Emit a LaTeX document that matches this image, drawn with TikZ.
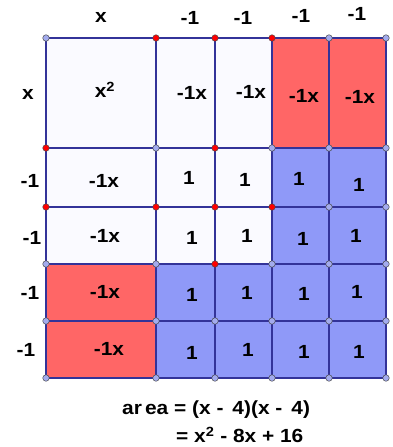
\documentclass[tikz,border=0pt]{standalone}
\usepackage{fontspec}
\setmainfont{Liberation Sans}[FakeStretch=1.1]
\definecolor{gridline}{HTML}{333399}
\definecolor{cellwhite}{HTML}{FAFAFF}
\definecolor{cellred}{HTML}{FF6666}
\definecolor{cellblue}{HTML}{8F99F8}
\definecolor{dotblue}{HTML}{A3ABEE}
\definecolor{dotred}{HTML}{FF0000}
\begin{document}
\begin{tikzpicture}[x=1pt,y=-1pt,
  lbl/.style={font=\bfseries\fontsize{19}{21}\selectfont, inner sep=0pt},
  cellbox/.style={draw=gridline, line width=1.5pt},
  vdot/.style={circle, draw=black!70, line width=0.5pt, inner sep=0pt, minimum size=6.5pt},
  bdot/.style={vdot, fill=dotblue},
  rdot/.style={vdot, fill=dotred}]
\useasboundingbox (0,0) rectangle (392,447);
% grid coordinates
\def\xs{{46,156,215,272,329,386}}
\def\ys{{38,148,207,264,321,378}}
\foreach \i in {0,...,5}{
  \foreach \j in {0,...,5}{
    \pgfmathsetmacro{\px}{\xs[\j]}
    \pgfmathsetmacro{\py}{\ys[\i]}
    \coordinate (p-\i-\j) at (\px,\py);
  }
}
% cells: row, col, colour
\foreach \r/\c/\col in {
  0/0/cellwhite,0/1/cellwhite,0/2/cellwhite,0/3/cellred,0/4/cellred,
  1/0/cellwhite,1/1/cellwhite,1/2/cellwhite,1/3/cellblue,1/4/cellblue,
  2/0/cellwhite,2/1/cellwhite,2/2/cellwhite,2/3/cellblue,2/4/cellblue,
  3/0/cellred,3/1/cellblue,3/2/cellblue,3/3/cellblue,3/4/cellblue,
  4/0/cellred,4/1/cellblue,4/2/cellblue,4/3/cellblue,4/4/cellblue}{
  \pgfmathtruncatemacro{\rr}{\r+1}
  \pgfmathtruncatemacro{\cc}{\c+1}
  \fill[\col] (p-\r-\c) rectangle (p-\rr-\cc);
}
\foreach \r/\c in {0/0,0/1,0/2,0/3,0/4,1/0,1/1,1/2,1/3,1/4,2/0,2/1,2/2,2/3,2/4,3/0,3/1,3/2,3/3,3/4,4/0,4/1,4/2,4/3,4/4}{
  \pgfmathtruncatemacro{\rr}{\r+1}
  \pgfmathtruncatemacro{\cc}{\c+1}
  \draw[cellbox] (p-\r-\c) rectangle (p-\rr-\cc);
}
% vertex dots
\foreach \i/\j/\s in {
  0/0/bdot,0/1/rdot,0/2/rdot,0/3/rdot,0/4/bdot,0/5/bdot,
  1/0/rdot,1/1/bdot,1/2/rdot,1/3/bdot,1/4/bdot,1/5/bdot,
  2/0/rdot,2/1/rdot,2/2/rdot,2/3/rdot,2/4/bdot,2/5/bdot,
  3/0/bdot,3/1/bdot,3/2/rdot,3/3/bdot,3/4/bdot,3/5/bdot,
  4/0/bdot,4/1/bdot,4/2/bdot,4/3/bdot,4/4/bdot,4/5/bdot,
  5/0/bdot,5/1/bdot,5/2/bdot,5/3/bdot,5/4/bdot,5/5/bdot}{
  \node[\s] (d-\i-\j) at (p-\i-\j) {};
}
% top labels
\node[lbl] (t0) at (101,17) {x};
\node[lbl] (t1) at (190,18) {-1};
\node[lbl] (t2) at (243,18) {-1};
\node[lbl] (t3) at (301,16) {-1};
\node[lbl] (t4) at (357,14) {-1};
% left labels
\node[lbl] (l0) at (28,94) {x};
\node[lbl] (l1) at (30,181) {-1};
\node[lbl] (l2) at (32,238) {-1};
\node[lbl] (l3) at (30,293) {-1};
\node[lbl] (l4) at (26,350) {-1};
% cell labels
\node[lbl] (c00) at (105,90) {x\textsuperscript{2}};
\node[lbl] (c01) at (192,93) {-1x};
\node[lbl] (c02) at (251,92) {-1x};
\node[lbl] (c03) at (304,96) {-1x};
\node[lbl] (c04) at (360,97) {-1x};
\node[lbl] (c10) at (104,181) {-1x};
\node[lbl] (c11) at (189,178) {1};
\node[lbl] (c12) at (245,180) {1};
\node[lbl] (c13) at (299,179) {1};
\node[lbl] (c14) at (359,185) {1};
\node[lbl] (c20) at (105,236) {-1x};
\node[lbl] (c21) at (192,238) {1};
\node[lbl] (c22) at (247,236) {1};
\node[lbl] (c23) at (303,239) {1};
\node[lbl] (c24) at (356,236) {1};
\node[lbl] (c30) at (105,292) {-1x};
\node[lbl] (c31) at (192,295) {1};
\node[lbl] (c32) at (247,293) {1};
\node[lbl] (c33) at (304,294) {1};
\node[lbl] (c34) at (357,292) {1};
\node[lbl] (c40) at (109,349) {-1x};
\node[lbl] (c41) at (192,353) {1};
\node[lbl] (c42) at (248,350) {1};
\node[lbl] (c43) at (304,352) {1};
\node[lbl] (c44) at (359,352) {1};
% area formula
\node[lbl, anchor=west] (a1) at (122,410) {ar\,ea = (x -\, 4)(x -\, 4)};
\node[lbl, anchor=west] (a2) at (176,435) {= x\textsuperscript{2} - 8x + 16};
\end{tikzpicture}
\end{document}
